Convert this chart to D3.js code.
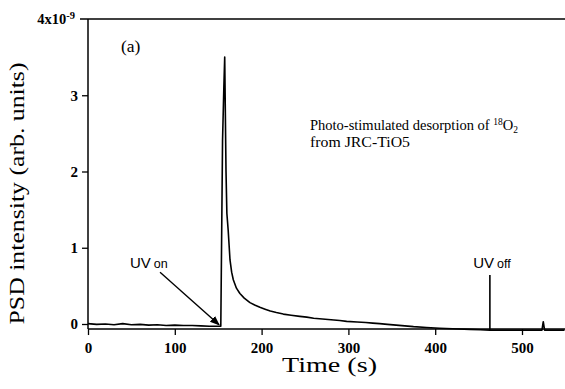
<!DOCTYPE html>
<html>
<head>
<meta charset="utf-8">
<script src="https://cdn.jsdelivr.net/npm/d3@7"></script>
<style>
  body { margin: 0; background: #fff; }
  svg { display: block; }
</style>
</head>
<body>
<svg id="chart"></svg>
<script>
// PSD trace (time in s, intensity in 1e-9 arb. units)
const time = [0, 10, 20, 30, 40, 50, 60, 70, 80, 90, 100, 110, 120, 130, 140, 150, 153,
              155, 156.5, 157.5, 159, 160, 161.5, 163.6, 165.5, 167.4, 171, 175, 180, 186.6,
              192, 198, 204, 210, 217, 225, 234, 244, 252, 260, 270, 280, 290, 298, 310,
              320, 328, 336, 345, 355, 365, 375, 390, 405, 420, 440, 452, 463,
              480, 500, 515, 523, 524.5, 526, 535, 549];
const psd  = [0.005, -0.005, 0.0, -0.01, 0.005, -0.01, -0.005, -0.015, -0.01, -0.02, -0.015, -0.02, -0.02, -0.025, -0.03, -0.03, -0.03,
              2.4, 3.1, 3.5, 2.0, 1.45, 1.23, 0.84, 0.68, 0.58, 0.47, 0.40, 0.34, 0.28,
              0.25, 0.22, 0.195, 0.17, 0.15, 0.13, 0.115, 0.10, 0.09, 0.075, 0.065, 0.055, 0.045, 0.035, 0.027,
              0.02, 0.012, 0.005, -0.005, -0.015, -0.025, -0.035, -0.045, -0.055, -0.062, -0.07, -0.075, -0.08,
              -0.08, -0.08, -0.08, -0.08, 0.03, -0.08, -0.08, -0.08];

const xTicks = [0, 100, 200, 300, 400, 500];
const yTicks = [0, 1, 2, 3];

const W = 565, H = 389;
const svg = d3.select("#chart").attr("width", W).attr("height", H);
svg.append("rect").attr("width", W).attr("height", H).attr("fill", "#fff");

const x = d3.scaleLinear().domain([0, 500]).range([88, 522]);
const y = d3.scaleLinear().domain([0, 4]).range([324, 19]);

const yBottom = -0.066;        // x axis sits a bit under zero

const serif = "'Liberation Serif', 'Times New Roman', serif";
const sans  = "'Liberation Sans', Arial, sans-serif";

/* x axis */
const gx = svg.append("g")
    .attr("transform", `translate(0, ${y(yBottom)})`)
    .call(d3.axisBottom(x).tickValues(xTicks).tickFormat(d3.format("d"))
            .tickSizeInner(6).tickSizeOuter(0).tickPadding(7));
gx.select(".domain").remove();
gx.append("line").attr("x1", x(0)).attr("x2", W).attr("stroke", "#000").attr("stroke-width", 1.5);
gx.selectAll(".tick line").attr("stroke-width", 1.3);
gx.selectAll(".tick text")
    .attr("fill", "#000").attr("font-family", serif).attr("font-weight", "bold").attr("font-size", 15);

/* y axis */
const gy = svg.append("g")
    .attr("transform", `translate(${x(0)}, 0)`)
    .call(d3.axisLeft(y).tickValues(yTicks).tickFormat(d3.format("d"))
            .tickSizeInner(6).tickSizeOuter(0).tickPadding(4));
gy.select(".domain").remove();
gy.append("line").attr("y1", y(4)).attr("y2", y(yBottom)).attr("stroke", "#000").attr("stroke-width", 1.5);
gy.selectAll(".tick line").attr("stroke-width", 1.3);
gy.selectAll(".tick text")
    .attr("fill", "#000").attr("font-family", serif).attr("font-weight", "bold").attr("font-size", 15);

/* top frame line, with the 4x10^-9 tick */
svg.append("line")
    .attr("x1", x(0) - 8).attr("x2", W)
    .attr("y1", y(4)).attr("y2", y(4))
    .attr("stroke", "#000").attr("stroke-width", 1.5);
const topLab = svg.append("text")
    .attr("x", x(0) - 13).attr("y", y(4) + 5)
    .attr("text-anchor", "end")
    .attr("font-family", serif).attr("font-weight", "bold").attr("font-size", 14.5);
topLab.append("tspan").text("4x10");
topLab.append("tspan").attr("dy", -5).attr("font-size", 10.5).text("-9");

/* trace */
const pts = time.map((t, i) => [t, psd[i]]);
svg.append("path")
    .datum(pts)
    .attr("fill", "none")
    .attr("stroke", "#000")
    .attr("stroke-width", 1.6)
    .attr("stroke-linejoin", "round")
    .attr("d", d3.line().x(d => x(d[0])).y(d => y(d[1])));

/* axis titles */
svg.append("text")
    .attr("x", (x(0) + W) / 2 + 3).attr("y", 372)
    .attr("text-anchor", "middle")
    .attr("font-family", serif).attr("font-size", 20)
    .attr("textLength", 95).attr("lengthAdjust", "spacingAndGlyphs")
    .text("Time  (s)");

svg.append("text")
    .attr("transform", `translate(24, ${(y(4) + y(0)) / 2 + 22}) rotate(-90)`)
    .attr("text-anchor", "middle")
    .attr("font-family", serif).attr("font-size", 20)
    .attr("textLength", 262).attr("lengthAdjust", "spacingAndGlyphs")
    .text("PSD intensity  (arb. units)");

/* panel label */
svg.append("text")
    .attr("x", 121).attr("y", 52)
    .attr("font-family", serif).attr("font-size", 17.5)
    .text("(a)");

/* description */
const desc = svg.append("text")
    .attr("font-family", serif).attr("font-size", 14.5);
const l1 = desc.append("tspan").attr("x", 310).attr("y", 130);
l1.append("tspan").text("Photo-stimulated desorption of ");
l1.append("tspan").attr("dy", -5).attr("font-size", 9.5).text("18");
l1.append("tspan").attr("dy", 5).text("O");
l1.append("tspan").attr("dy", 3).attr("font-size", 9.5).text("2");
desc.append("tspan").attr("x", 310).attr("y", 147)
    .attr("textLength", 100).attr("lengthAdjust", "spacingAndGlyphs")
    .text("from JRC-TiO5");

/* UV on annotation */
const uvOn = svg.append("text")
    .attr("x", 130).attr("y", 268)
    .attr("font-family", sans).attr("font-size", 15);
uvOn.append("tspan").text("UV");
uvOn.append("tspan").attr("dx", 3).attr("font-size", 12.5).text("on");

svg.append("defs").append("marker")
    .attr("id", "arr")
    .attr("viewBox", "0 0 10 10")
    .attr("refX", 9).attr("refY", 5)
    .attr("markerWidth", 7).attr("markerHeight", 7)
    .attr("orient", "auto")
    .append("path").attr("d", "M0,1 L10,5 L0,9 Z").attr("fill", "#000");

svg.append("line")
    .attr("x1", x(83)).attr("y1", y(0.68))
    .attr("x2", x(151)).attr("y2", y(-0.01))
    .attr("stroke", "#000").attr("stroke-width", 1.4)
    .attr("marker-end", "url(#arr)");

/* UV off annotation */
const uvOff = svg.append("text")
    .attr("x", x(463) + 2).attr("y", 268)
    .attr("text-anchor", "middle")
    .attr("font-family", sans).attr("font-size", 15);
uvOff.append("tspan").text("UV");
uvOff.append("tspan").attr("dx", 3).attr("font-size", 12.5).text("off");

svg.append("line")
    .attr("x1", x(463)).attr("x2", x(463))
    .attr("y1", 275).attr("y2", y(-0.08))
    .attr("stroke", "#000").attr("stroke-width", 1.6);
</script>
</body>
</html>
